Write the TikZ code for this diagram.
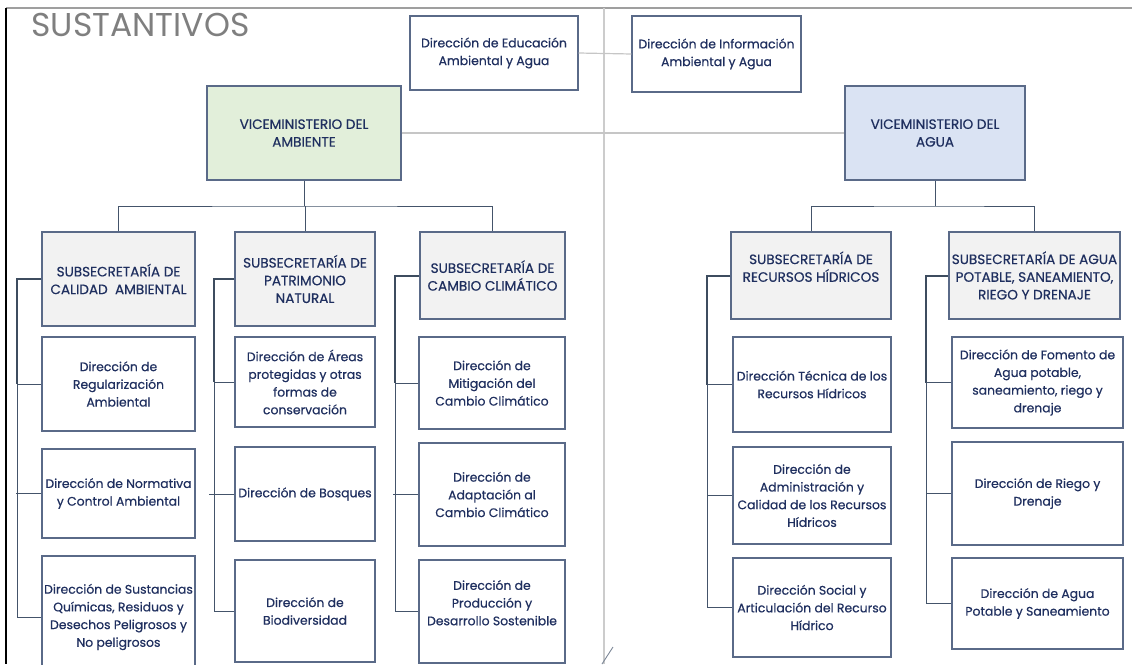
\documentclass[tikz,border=0pt]{standalone}
\usepackage{fontspec}
\setmainfont{Poppins}
\newfontfamily\boxfont{Poppins}[FakeBold=0.5]
\usetikzlibrary{positioning}

\definecolor{boxline}{HTML}{5A6A88}
\definecolor{txtnavy}{HTML}{1F2F5F}
\definecolor{conline}{HTML}{44546A}
\definecolor{greenfill}{HTML}{E2EFDA}
\definecolor{bluefill}{HTML}{DAE3F3}
\definecolor{subfill}{HTML}{F2F2F2}
\definecolor{titlegray}{HTML}{7F7F7F}

\tikzset{
    box/.style={rectangle,draw=boxline,line width=1.1pt,fill=white,text=txtnavy,
        align=center,inner sep=0pt,font=\boxfont\fontsize{12.4}{17.7}\selectfont},
    subbox/.style={box,fill=subfill,font=\boxfont\fontsize{13.6}{17.7}\selectfont},
    vicebox/.style={box,font=\boxfont\fontsize{13.6}{17.7}\selectfont},
    tree/.style={draw=conline,line width=1pt},
    spine/.style={draw=conline!90!black,line width=2pt},
    grayline/.style={draw=gray!45,line width=1.2pt}
}

\begin{document}
\begin{tikzpicture}[x=1pt,y=-1pt]
    \useasboundingbox (0,0) rectangle (1132,664);
    \clip (0,0) rectangle (1132,664);
    % page frame and separator
    \draw[gray!75,line width=1.6pt] (6,8) -- (1132,8);
    \draw[black,line width=1.2pt] (6,8) -- (6,664);
    \draw[gray!40,line width=2.6pt] (604,8) -- (604,664);
    \draw[conline!70,line width=0.9pt] (613,647) -- (602,664);
    \node at (28,25) [anchor=west,text=titlegray,font=\fontsize{33}{36}\selectfont] (titulo) {SUSTANTIVOS};

    % top level
    \node at (494,53) [box,minimum width=168pt,minimum height=74pt] (edu) {Dirección de Educación\\Ambiental y Agua};
    \node at (716.5,54) [box,minimum width=169pt,minimum height=76pt] (info) {Dirección de Información\\Ambiental y Agua};
    \node at (304,133) [vicebox,fill=greenfill,minimum width=194pt,minimum height=94pt] (vamb) {VICEMINISTERIO DEL\\AMBIENTE};
    \node at (935,133) [vicebox,fill=bluefill,minimum width=180pt,minimum height=94pt] (vagua) {VICEMINISTERIO DEL\\AGUA};
    \draw[grayline] (edu.east) -- (info.west);
    \draw[grayline] (vamb.east) -- (vagua.west);

    % subsecretarias
    \node at (118.5,279) [subbox,minimum width=153pt,minimum height=94pt] (calidad) {SUBSECRETARÍA DE\\CALIDAD \ AMBIENTAL};
    \node at (305,279) [subbox,minimum width=140pt,minimum height=94pt] (patrimonio) {SUBSECRETARÍA DE\\PATRIMONIO\\NATURAL};
    \node at (492.5,275.5) [subbox,minimum width=145pt,minimum height=87pt] (cambio) {SUBSECRETARÍA DE\\CAMBIO CLIMÁTICO};
    \node at (811,275.5) [subbox,minimum width=160pt,minimum height=87pt] (recursos) {SUBSECRETARÍA DE\\RECURSOS HÍDRICOS\\\mbox{}};
    \node at (1034.5,275.5) [subbox,minimum width=171pt,minimum height=87pt] (potable) {SUBSECRETARÍA DE AGUA\\POTABLE, SANEAMIENTO,\\RIEGO Y DRENAJE};

    % direcciones
    \node at (118.5,384) [box,minimum width=153pt,minimum height=94pt] (reg) {Dirección de\\Regularización\\Ambiental};
    \node at (118.5,493.5) [box,minimum width=153pt,minimum height=89pt] (norm) {Dirección de Normativa\\y Control Ambiental};
    \node at (118.5,617) [box,minimum width=153pt,minimum height=122pt] (sust) {Dirección de Sustancias\\Químicas, Residuos y\\Desechos Peligrosos y\\No peligrosos};
    \node at (305,382) [box,minimum width=140pt,minimum height=90pt] (areas) {Dirección de Áreas\\protegidas y otras\\formas de\\conservación};
    \node at (305,494) [box,minimum width=140pt,minimum height=94pt] (bosques) {Dirección de Bosques};
    \node at (305,611) [box,minimum width=140pt,minimum height=102pt] (biodiv) {Dirección de\\Biodiversidad};
    \node at (492,383) [box,minimum width=146pt,minimum height=92pt] (mitig) {Dirección de\\Mitigación del\\Cambio Climático};
    \node at (492,494.5) [box,minimum width=146pt,minimum height=103pt] (adapt) {Dirección de\\Adaptación al\\Cambio Climático};
    \node at (492,611.5) [box,minimum width=146pt,minimum height=103pt] (prod) {Dirección de\\Producción y\\Desarrollo Sostenible\\\mbox{}};
    \node at (812,384.5) [box,minimum width=158pt,minimum height=95pt] (tecnica) {Dirección Técnica de los\\Recursos Hídricos};
    \node at (812,495.5) [box,minimum width=158pt,minimum height=97pt] (admin) {Dirección de\\Administración y\\Calidad de los Recursos\\Hídricos};
    \node at (812,607.5) [box,minimum width=158pt,minimum height=99pt] (social) {Dirección Social y\\Articulación del Recurso\\Hídrico};
    \node at (1037.5,382.5) [box,minimum width=171pt,minimum height=91pt] (fomento) {Dirección de Fomento de\\Agua potable,\\saneamiento, riego y\\drenaje};
    \node at (1037.5,493.5) [box,minimum width=171pt,minimum height=103pt] (riego) {Dirección de Riego y\\Drenaje};
    \node at (1037.5,603.5) [box,minimum width=171pt,minimum height=91pt] (aps) {Dirección de Agua\\Potable y Saneamiento};

    % vice -> subsecretarias
    \coordinate (ambbar) at (304,206);
    \coordinate (aguabar) at (935,206);
    \draw[tree] (vamb.south) -- (ambbar);
    \draw[tree] (calidad.north) |- (ambbar) -| (cambio.north);
    \draw[tree] (patrimonio.north) -- (patrimonio.north |- ambbar);
    \draw[tree] (vagua.south) -- (aguabar);
    \draw[tree] (recursos.north) |- (aguabar) -| (potable.north);

    % subsecretarias -> direcciones
    \foreach \sub/\x/\first/\last in {calidad/17/reg/sust,patrimonio/214/areas/biodiv,
            cambio/395/mitig/prod,recursos/707/tecnica/social,potable/926/fomento/aps} {
        \coordinate (\sub-spine) at (\x,0);
        \draw[spine] (\sub.west) -| (\sub-spine |- \first.west);
        \draw[tree] (\sub-spine |- \first.west) |- (\last.west);
        \draw[tree] (\first.west) -- (\sub-spine |- \first.west);
    }
    \foreach \dir in {norm,bosques,adapt,admin,riego} {
        \draw[tree] (\dir.west) -- ++(-25,0);
    }
\end{tikzpicture}
\end{document}
